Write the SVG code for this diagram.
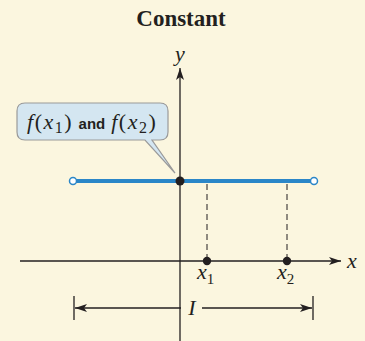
<svg xmlns="http://www.w3.org/2000/svg" width="365" height="341" viewBox="0 0 365 341">
<defs>
<style>
.ax{stroke:#231f20;stroke-width:1.3;fill:none}
.dash{stroke:#231f20;stroke-width:1;stroke-dasharray:6,4;fill:none}
.it{font-family:"Liberation Serif",serif;font-style:italic;fill:#231f20}
.rm{font-family:"Liberation Serif",serif;fill:#231f20}
.ls{letter-spacing:1.5px}
</style>
<marker id="ah" viewBox="0 0 12 8" refX="12" refY="4" markerWidth="12" markerHeight="8" markerUnits="userSpaceOnUse" orient="auto">
<path d="M0,0 L12,4 L0,8 L3,4 Z" fill="#231f20"/>
</marker>
</defs>
<rect width="365" height="341" fill="#FBF6DF"/>
<text x="181" y="26" text-anchor="middle" font-family="Liberation Serif,serif" font-weight="bold" font-size="23" fill="#231f20">Constant</text>
<g id="connectors">
<line class="ax" x1="180" y1="341" x2="180" y2="68" marker-end="url(#ah)"/>
<line class="ax" x1="20" y1="261" x2="341" y2="261" marker-end="url(#ah)"/>
<line class="dash" x1="207" y1="184" x2="207" y2="258"/>
<line class="dash" x1="287" y1="184" x2="287" y2="258"/>
<line class="ax" x1="74" y1="296" x2="74" y2="320"/>
<line class="ax" x1="313" y1="296" x2="313" y2="320"/>
<line class="ax" x1="181" y1="308" x2="75" y2="308" marker-end="url(#ah)"/>
<line class="ax" x1="202" y1="308" x2="312" y2="308" marker-end="url(#ah)"/>
</g>
<g id="graph">
<line x1="76" y1="181" x2="311" y2="181" stroke="#2a86c8" stroke-width="4"/>
<circle cx="73" cy="181" r="3.5" fill="#fff" stroke="#2a86c8" stroke-width="1.5"/>
<circle cx="314" cy="181" r="3.5" fill="#fff" stroke="#2a86c8" stroke-width="1.5"/>
<circle cx="180" cy="181" r="4.5" fill="#231f20"/>
</g>
<g id="points">
<circle cx="207" cy="261" r="4.2" fill="#231f20"/>
<circle cx="287" cy="261" r="4.2" fill="#231f20"/>
</g>
<g id="labels">
<text class="it" x="180" y="61" font-size="22" text-anchor="middle">y</text>
<text class="it" x="352" y="268" font-size="22" text-anchor="middle">x</text>
<text class="it" x="197" y="279" font-size="22">x<tspan class="rm" font-style="normal" font-size="15" dy="5">1</tspan></text>
<text class="it" x="277" y="279" font-size="22">x<tspan class="rm" font-style="normal" font-size="15" dy="5">2</tspan></text>
<text class="it" x="192" y="315" font-size="22" text-anchor="middle">I</text>
</g>
<g id="callout">
<path d="M25,103 H160 Q168,103 168,111 V132 Q168,140 160,140 H152 L175,173 L145,140 H25 Q17,140 17,132 V111 Q17,103 25,103 Z" fill="#D4E6F1" stroke="#9a9a9a" stroke-width="1.2"/>
<text x="27" y="129" font-size="22" fill="#231f20"><tspan class="it ls">f</tspan><tspan class="rm ls">(</tspan><tspan class="it ls">x</tspan><tspan class="rm ls" font-size="16" dy="4">1</tspan><tspan class="rm" dy="-4">)</tspan><tspan font-family="Liberation Sans Narrow,Liberation Sans,sans-serif" font-weight="bold" font-size="15" dx="7">and</tspan><tspan class="it ls" dx="6">f</tspan><tspan class="rm ls">(</tspan><tspan class="it ls">x</tspan><tspan class="rm ls" font-size="16" dy="4">2</tspan><tspan class="rm" dy="-4">)</tspan></text>
</g>
</svg>
